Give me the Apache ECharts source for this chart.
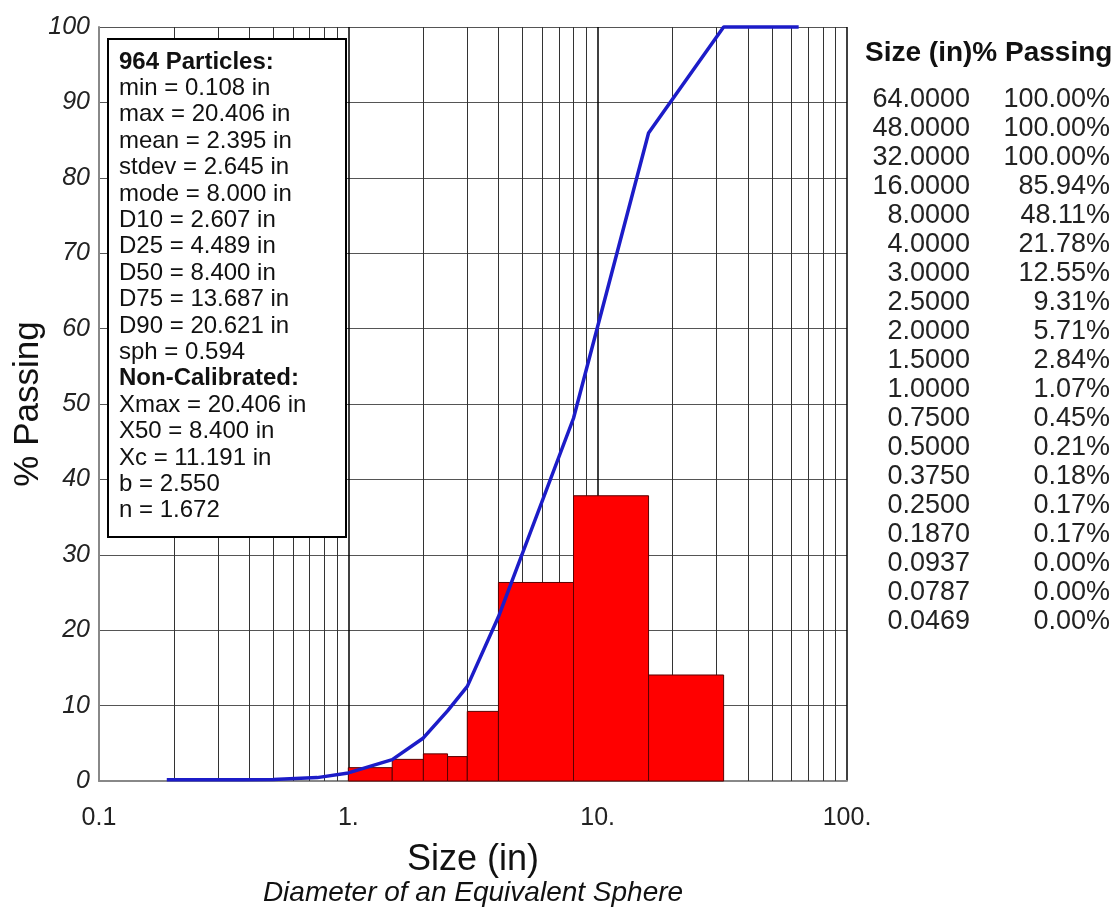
<!DOCTYPE html>
<html>
<head>
<meta charset="utf-8">
<script src="https://cdn.jsdelivr.net/npm/echarts@6/dist/echarts.min.js"></script>
<style>
  html, body { margin: 0; padding: 0; background: #fff; }
  #chartSize { width: 1117px; height: 911px; }
</style>
</head>
<body>
<div id="chartSize"></div>
<script type="text/javascript">
	// sieve table (size in inches, cumulative % passing)
	var sizes   = [64.0, 48.0, 32.0, 16.0, 8.0, 4.0, 3.0, 2.5, 2.0, 1.5, 1.0, 0.75, 0.5, 0.375, 0.25, 0.187, 0.0937, 0.0787, 0.0469];
	var passing = [100.00, 100.00, 100.00, 85.94, 48.11, 21.78, 12.55, 9.31, 5.71, 2.84, 1.07, 0.45, 0.21, 0.18, 0.17, 0.17, 0.00, 0.00, 0.00];

	// histogram bins (lower edge, upper edge, % retained)
	var binLow  = [1.0, 1.5, 2.0, 2.5, 3.0, 4.0, 8.0, 16.0];
	var binHigh = [1.5, 2.0, 2.5, 3.0, 4.0, 8.0, 16.0, 32.0];
	var binPct  = [1.77, 2.87, 3.60, 3.24, 9.23, 26.33, 37.83, 14.06];

	// minor log grid lines
	var minorGrid = [0.2, 0.3, 0.4, 0.5, 0.6, 0.7, 0.8, 0.9, 2, 3, 4, 5, 6, 7, 8, 9, 20, 30, 40, 50, 60, 70, 80, 90];
	var xTickLabels = {'-1': '0.1', '0': '1.', '1': '10.', '2': '100.'};

	var statLines = [
		['964 Particles:', true],
		['min = 0.108 in', false],
		['max = 20.406 in', false],
		['mean = 2.395 in', false],
		['stdev = 2.645 in', false],
		['mode = 8.000 in', false],
		['D10 = 2.607 in', false],
		['D25 = 4.489 in', false],
		['D50 = 8.400 in', false],
		['D75 = 13.687 in', false],
		['D90 = 20.621 in', false],
		['sph = 0.594', false],
		['Non-Calibrated:', true],
		['Xmax = 20.406 in', false],
		['X50 = 8.400 in', false],
		['Xc = 11.191 in', false],
		['b = 2.550', false],
		['n = 1.672', false]
	];

	var FONT = '"Liberation Sans", Arial, sans-serif';

	var lineData = [];
	for (var i = sizes.length - 1; i >= 0; i--) {
		if (sizes[i] >= 0.1) lineData.push([sizes[i], passing[i]]);
	}
	var barData = binLow.map(function (lo, i) { return [lo, binHigh[i], binPct[i]]; });

	var graphics = [];
	// stats box
	graphics.push({
		type: 'rect', z: 100,
		shape: { x: 108, y: 39, width: 238, height: 498 },
		style: { fill: '#fff', stroke: '#000', lineWidth: 2 }
	});
	statLines.forEach(function (s, i) {
		graphics.push({
			type: 'text', z: 101, x: 119, y: 62 + i * 26.4,
			style: {
				text: s[0], fill: '#111',
				font: (s[1] ? 'bold ' : '') + '24px ' + FONT,
				textVerticalAlign: 'middle'
			}
		});
	});
	// table on the right
	graphics.push({
		type: 'text', x: 865, y: 53,
		style: { text: 'Size (in)% Passing', fill: '#111', font: 'bold 28px ' + FONT, textVerticalAlign: 'middle' }
	});
	sizes.forEach(function (s, i) {
		graphics.push({
			type: 'text', x: 970, y: 100 + i * 29,
			style: { text: s.toFixed(4), fill: '#222', font: '27px ' + FONT, textAlign: 'right', textVerticalAlign: 'middle' }
		});
		graphics.push({
			type: 'text', x: 1110, y: 100 + i * 29,
			style: { text: passing[i].toFixed(2) + '%', fill: '#222', font: '27px ' + FONT, textAlign: 'right', textVerticalAlign: 'middle' }
		});
	});
	// subtitle under axis name
	graphics.push({
		type: 'text', x: 473, y: 893,
		style: { text: 'Diameter of an Equivalent Sphere', fill: '#111', font: 'italic 28px ' + FONT, textAlign: 'center', textVerticalAlign: 'middle' }
	});

	var chartSize = echarts.init(document.getElementById('chartSize'));
	var option = {
		animation: false,
		backgroundColor: '#fff',
		grid: { left: 99, right: 270, top: 27, bottom: 130, containLabel: false, outerBoundsMode: 'none' },
		xAxis: {
			type: 'log',
			logBase: 10,
			min: 0.1,
			max: 100,
			name: 'Size (in)',
			nameLocation: 'middle',
			nameGap: 61,
			nameMoveOverlap: false,
			nameTextStyle: { fontFamily: FONT, fontSize: 36, color: '#111' },
			axisLine: { show: true, lineStyle: { color: '#888', width: 2 } },
			axisTick: { show: false },
			axisLabel: {
				fontFamily: FONT, fontSize: 25, color: '#222', margin: 25,
				formatter: function (v) {
					var k = Math.round(Math.log10(v));
					return xTickLabels[k] || '';
				}
			},
			splitLine: { show: true, lineStyle: { color: '#000', width: 1.5 } }
		},
		yAxis: {
			type: 'value',
			min: 0,
			max: 100,
			interval: 10,
			name: '% Passing',
			nameLocation: 'middle',
			nameGap: 53,
			nameMoveOverlap: false,
			nameTextStyle: { fontFamily: FONT, fontSize: 35, color: '#111' },
			axisLine: { show: true, lineStyle: { color: '#888', width: 2 } },
			axisTick: { show: false },
			axisLabel: { fontFamily: FONT, fontSize: 25, fontStyle: 'italic', color: '#222', margin: 9 },
			splitLine: { show: true, lineStyle: { color: '#555', width: 1 } }
		},
		series: [
			{
				type: 'line',
				data: [],
				z: 1,
				silent: true,
				markLine: {
					z: 1,
					silent: true,
					symbol: 'none',
					label: { show: false },
					lineStyle: { color: '#333', width: 1, type: 'solid' },
					data: minorGrid.map(function (v) { return { xAxis: v }; })
				}
			},
			{
				type: 'custom',
				z: 6,
				data: barData,
				encode: { x: [0, 1], y: 2 },
				renderItem: function (params, api) {
					var p0 = api.coord([api.value(0), api.value(2)]);
					var p1 = api.coord([api.value(1), 0]);
					return {
						type: 'rect',
						shape: { x: p0[0], y: p0[1], width: p1[0] - p0[0], height: p1[1] - p0[1] },
						style: { fill: '#ff0000', stroke: '#5a0000', lineWidth: 1 }
					};
				}
			},
			{
				type: 'line',
				z: 8,
				data: lineData,
				symbol: 'none',
				clip: false,
				lineStyle: { color: '#1c1cc8', width: 3.5 }
			}
		],
		graphic: graphics
	};
	chartSize.setOption(option);
	window.onresize = function () {
		chartSize.resize();
	};
</script>
</body>
</html>
